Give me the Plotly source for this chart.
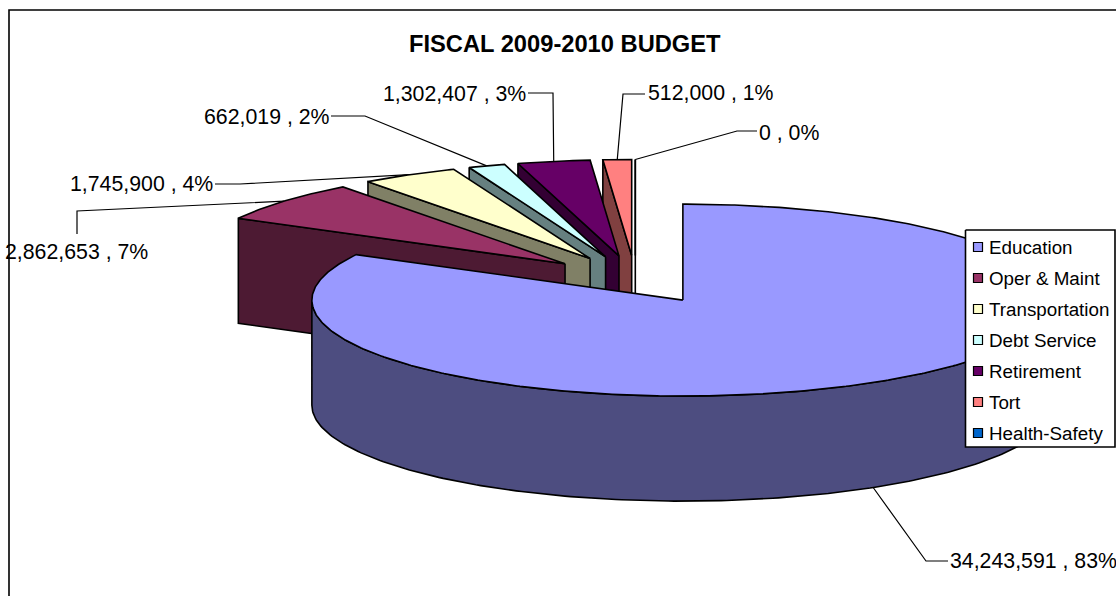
import numpy as np
import plotly.graph_objects as go

# Budget lines, clockwise from twelve o'clock
categories = ["Education", "Oper & Maint", "Transportation", "Debt Service",
              "Retirement", "Tort", "Health-Safety"]
budget_values = [34243591, 2862653, 1745900, 662019, 1302407, 512000, 0]

top_colors = ["#9999FF", "#993366", "#FFFFCC", "#CCFFFF", "#660066", "#FF8080", "#0066CC"]
side_colors = ["#4D4D80", "#4D1A33", "#808066", "#668080", "#330033", "#804040", "#003366"]

# Page-pixel layout of the tilted pie
CENTER_X, CENTER_Y = 635.3, 279.5
RADIUS_X, RADIUS_Y = 371.0, 96.0
DEPTH = 105.0
EXPLODE = 0.25

# Label anchor (left edge, middle) and leader elbows, one row per category
label_anchor = [(950, 561), (5, 252), (70, 184), (204, 117), (383, 94), (648, 93), (759, 133)]
leader_elbows = [[(926, 561), (948, 561)],
                 [(77, 211), (77, 234)],
                 [(240, 184), (215, 184)],
                 [(365, 116), (331, 116)],
                 [(553, 93), (528, 93)],
                 [(623, 94), (645, 94)],
                 [(737, 131), (757, 131)]]

FONT = "Liberation Sans, Arial, sans-serif"
LABEL_SIZE = 21.3
OUTLINE = dict(color="black", width=1.6)

total = sum(budget_values)
fractions = np.array(budget_values) / total
edges = np.concatenate([[0.0], np.cumsum(fractions) * 360.0])


def rim(theta_deg, apex):
    t = np.radians(theta_deg)
    return apex[0] + RADIUS_X * np.sin(t), apex[1] - RADIUS_Y * np.cos(t)


def apex_of(mid_deg):
    t = np.radians(mid_deg)
    return CENTER_X + EXPLODE * RADIUS_X * np.sin(t), CENTER_Y - EXPLODE * RADIUS_Y * np.cos(t)


def polygon(xs, ys, color):
    return go.Scatter(x=list(xs), y=list(ys), mode="lines", fill="toself", fillcolor=color,
                      line=OUTLINE, hoverinfo="skip", showlegend=False)


fig = go.Figure()

# Leader lines run from each slice's rim out to its label
for i, name in enumerate(categories):
    mid = (edges[i] + edges[i + 1]) / 2
    apex = apex_of(mid)
    tip_x, tip_y = rim(mid, apex)
    if np.sin(np.radians(mid)) > 0:
        tip_y += DEPTH
    px = [tip_x] + [p[0] for p in leader_elbows[i]]
    py = [tip_y] + [p[1] for p in leader_elbows[i]]
    fig.add_trace(go.Scatter(x=px, y=py, mode="lines", line=dict(color="black", width=1.2),
                             hoverinfo="skip", showlegend=False))

# Painter's order: the slices at the back first, Education last
for i in range(len(categories) - 1, -1, -1):
    start, end = edges[i], edges[i + 1]
    apex = apex_of((start + end) / 2)
    arc = np.linspace(start, end, max(int(end - start) * 2, 2))
    ax, ay = rim(arc, apex)

    # Radial cut wall on the start edge, when it faces the viewer
    if np.sin(np.radians(start)) <= 1e-9 and i > 0:
        sx, sy = rim(start, apex)
        fig.add_trace(polygon([apex[0], sx, sx, apex[0], apex[0]],
                              [apex[1], sy, sy + DEPTH, apex[1] + DEPTH, apex[1]],
                              side_colors[i]))

    # Outer wall along the front half of the rim
    lo, hi = max(start, 90.0), min(end, 270.0)
    if hi > lo:
        front = np.linspace(lo, hi, 200)
        fx, fy = rim(front, apex)
        fig.add_trace(polygon(np.concatenate([fx, fx[::-1], fx[:1]]),
                              np.concatenate([fy, fy[::-1] + DEPTH, fy[:1]]),
                              side_colors[i]))

    # Top face
    fig.add_trace(polygon(np.concatenate([[apex[0]], ax, [apex[0]]]),
                          np.concatenate([[apex[1]], ay, [apex[1]]]),
                          top_colors[i]))

# Legend panel with one swatch per category
LEG_X0, LEG_X1, LEG_Y0, LEG_Y1 = 965.5, 1115, 230, 447
fig.add_trace(go.Scatter(x=[LEG_X0, LEG_X1, LEG_X1, LEG_X0, LEG_X0],
                         y=[LEG_Y0, LEG_Y0, LEG_Y1, LEG_Y1, LEG_Y0],
                         mode="lines", fill="toself", fillcolor="white",
                         line=dict(color="black", width=1.6),
                         hoverinfo="skip", showlegend=False))
legend_y = [247 + 31 * k for k in range(len(categories))]
fig.add_trace(go.Scatter(x=[978] * len(categories), y=legend_y, mode="markers",
                         marker=dict(symbol="square", size=9, color=top_colors,
                                     line=dict(color="black", width=1.2)),
                         hoverinfo="skip", showlegend=False))

annotations = [dict(x=565, y=44, text="<b>FISCAL 2009-2010 BUDGET</b>", showarrow=False,
                    xanchor="center", yanchor="middle",
                    font=dict(family=FONT, size=23.7, color="black"))]
for i, name in enumerate(categories):
    pct = fractions[i] * 100
    annotations.append(dict(x=label_anchor[i][0], y=label_anchor[i][1],
                            text=f"{budget_values[i]:,} , {pct:.0f}%", showarrow=False,
                            xanchor="left", yanchor="middle", borderpad=0, borderwidth=0,
                            font=dict(family=FONT, size=LABEL_SIZE, color="black")))
    annotations.append(dict(x=988, y=legend_y[i], text=name, showarrow=False,
                            xanchor="left", yanchor="middle", borderpad=0,
                            font=dict(family=FONT, size=18.8, color="black")))

fig.update_layout(
    width=1116, height=596, margin=dict(l=0, r=0, t=0, b=0),
    paper_bgcolor="white", plot_bgcolor="white", showlegend=False,
    xaxis=dict(range=[0, 1116], visible=False, fixedrange=True),
    yaxis=dict(range=[596, 0], visible=False, fixedrange=True),
    annotations=annotations,
    # Chart frame; its right and bottom sides fall past the page edge
    shapes=[dict(type="rect", xref="x", yref="y", x0=9, y0=10, x1=1140, y1=620,
                 line=dict(color="black", width=1.6), layer="below")],
)

fig.write_html("out.html", config=dict(displayModeBar=False))
